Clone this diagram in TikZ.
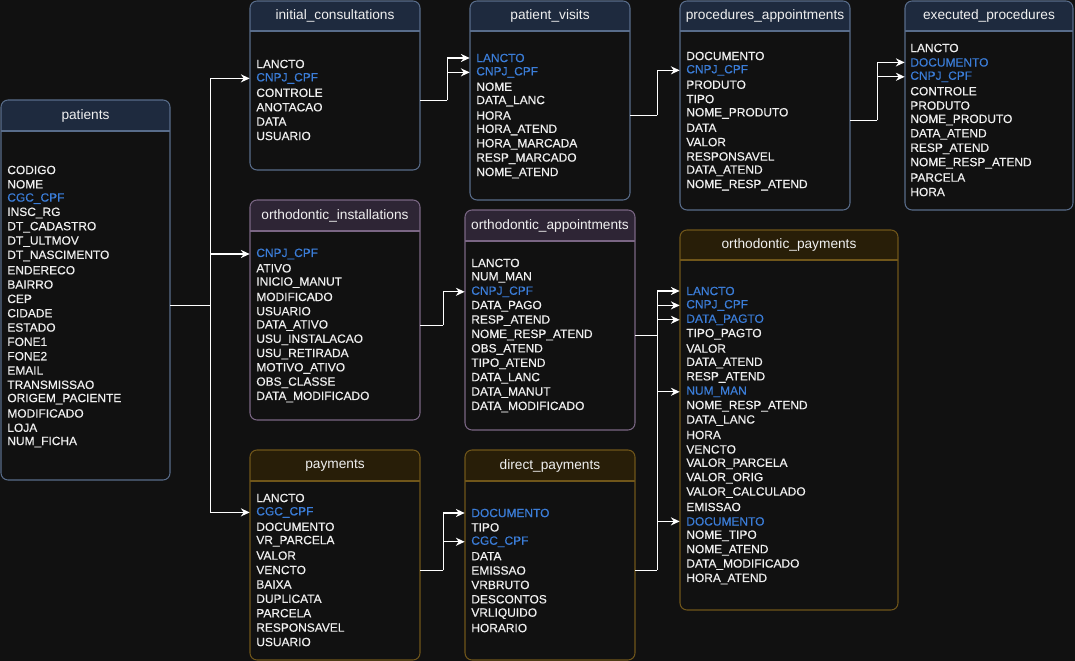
\documentclass[tikz,border=0pt]{standalone}
\usepackage{fontspec}
\setmainfont{Liberation Sans}
\newfontfamily\fieldfont[FakeBold=0.45]{Liberation Sans}
\usepackage{tikz}
\usetikzlibrary{arrows.meta,fit}
\definecolor{canvas}{RGB}{17,17,17}
\definecolor{fg}{RGB}{240,240,240}
\definecolor{key}{RGB}{59,125,216}
\definecolor{bluehd}{RGB}{30,42,62}
\definecolor{bluefr}{RGB}{88,108,138}
\definecolor{purphd}{RGB}{46,37,53}
\definecolor{purpfr}{RGB}{122,102,132}
\definecolor{goldhd}{RGB}{40,30,8}
\definecolor{goldfr}{RGB}{112,86,26}

\tikzset{
  wire/.style={draw=white, line width=0.75pt},
  link/.style={wire, -{Stealth[length=5pt,width=4.6pt]}},
  field/.style={anchor=west, inner sep=0pt, font=\fieldfont\fontsize{6.8pt}{8pt}\selectfont},
  title/.style={text=fg, inner sep=0pt, font=\fontsize{7.8pt}{9pt}\selectfont},
}

% table frame: name, title, left, top, right, bottom, header bottom, theme
\newcommand{\dbtable}[8]{%
  \begin{scope}
    \clip[rounded corners=4pt] (#3,#4) rectangle (#5,#6);
    \fill[#8hd] (#3,#4) rectangle (#5,#7);
  \end{scope}
  \draw[#8fr, line width=0.6pt, rounded corners=4pt] (#3,#4) rectangle (#5,#6);
  \draw[#8fr, line width=0.6pt] (#3,#7) -- (#5,#7);
  \node[title] (#1-h) at ({(#3+#5)/2},{(#4+#7)/2}) {#2};
  \node[fit={(#3,#7) (#5,#6)}, inner sep=0pt] (#1) {};
}

\begin{document}
\begin{tikzpicture}[x=0.02cm, y=-0.02cm]
  \fill[canvas] (0,0) rectangle (1075,661);
  \useasboundingbox (0,0) rectangle (1075,661);

  % patients
  \dbtable{pat}{patients}{1}{100}{170}{480}{131}{blue}
  \foreach \f/\c [count=\i] in {CODIGO/fg, NOME/fg, CGC\_CPF/key, INSC\_RG/fg,
      DT\_CADASTRO/fg, DT\_ULTMOV/fg, DT\_NASCIMENTO/fg, ENDERECO/fg, BAIRRO/fg,
      CEP/fg, CIDADE/fg, ESTADO/fg, FONE1/fg, FONE2/fg, EMAIL/fg, TRANSMISSAO/fg,
      ORIGEM\_PACIENTE/fg, MODIFICADO/fg, LOJA/fg, NUM\_FICHA/fg}
    \node[field, text=\c] (pat-\i) at (7,{170+14.32*(\i-1)}) {\f};

  % initial consultations
  \dbtable{ic}{initial\_consultations}{250}{1}{420}{170}{31}{blue}
  \foreach \f/\c [count=\i] in {LANCTO/fg, CNPJ\_CPF/key, CONTROLE/fg,
      ANOTACAO/fg, DATA/fg, USUARIO/fg}
    \node[field, text=\c] (ic-\i) at (256,{64+14.4*(\i-1)}) {\f};

  % patient visits
  \dbtable{pv}{patient\_visits}{470}{1}{630}{200}{31}{blue}
  \foreach \f/\c [count=\i] in {LANCTO/key, CNPJ\_CPF/key, NOME/fg, DATA\_LANC/fg,
      HORA/fg, HORA\_ATEND/fg, HORA\_MARCADA/fg, RESP\_MARCADO/fg, NOME\_ATEND/fg}
    \node[field, text=\c] (pv-\i) at (476,{58+14.38*(\i-1)}) {\f};

  % procedures appointments
  \dbtable{pa}{procedures\_appointments}{680}{1}{850}{210}{31}{blue}
  \foreach \f/\c [count=\i] in {DOCUMENTO/fg, CNPJ\_CPF/key, PRODUTO/fg, TIPO/fg,
      NOME\_PRODUTO/fg, DATA/fg, VALOR/fg, RESPONSAVEL/fg, DATA\_ATEND/fg,
      NOME\_RESP\_ATEND/fg}
    \node[field, text=\c] (pa-\i) at (686,{56+14.35*(\i-1)}) {\f};

  % executed procedures
  \dbtable{ep}{executed\_procedures}{905}{1}{1073}{210}{31}{blue}
  \foreach \f/\c [count=\i] in {LANCTO/fg, DOCUMENTO/key, CNPJ\_CPF/key,
      CONTROLE/fg, PRODUTO/fg, NOME\_PRODUTO/fg, DATA\_ATEND/fg, RESP\_ATEND/fg,
      NOME\_RESP\_ATEND/fg, PARCELA/fg, HORA/fg}
    \node[field, text=\c] (ep-\i) at (910,{48+14.4*(\i-1)}) {\f};

  % orthodontic installations
  \dbtable{oi}{orthodontic\_installations}{250}{200}{420}{420}{231}{purp}
  \foreach \f/\c [count=\i] in {CNPJ\_CPF/key, ATIVO/fg, INICIO\_MANUT/fg,
      MODIFICADO/fg, USUARIO/fg, DATA\_ATIVO/fg, USU\_INSTALACAO/fg,
      USU\_RETIRADA/fg, MOTIVO\_ATIVO/fg, OBS\_CLASSE/fg, DATA\_MODIFICADO/fg}
    \node[field, text=\c] (oi-\i) at (256,{254+14.3*(\i-1)}) {\f};

  % orthodontic appointments
  \dbtable{oa}{orthodontic\_appointments}{465}{210}{635}{430}{241}{purp}
  \foreach \f/\c [count=\i] in {LANCTO/fg, NUM\_MAN/fg, CNPJ\_CPF/key,
      DATA\_PAGO/fg, RESP\_ATEND/fg, NOME\_RESP\_ATEND/fg, OBS\_ATEND/fg,
      TIPO\_ATEND/fg, DATA\_LANC/fg, DATA\_MANUT/fg, DATA\_MODIFICADO/fg}
    \node[field, text=\c] (oa-\i) at (471,{263+14.4*(\i-1)}) {\f};

  % orthodontic payments
  \dbtable{op}{orthodontic\_payments}{680}{230}{898}{610}{260}{gold}
  \foreach \f/\c [count=\i] in {LANCTO/key, CNPJ\_CPF/key, DATA\_PAGTO/key,
      TIPO\_PAGTO/fg, VALOR/fg, DATA\_ATEND/fg, RESP\_ATEND/fg, NUM\_MAN/key,
      NOME\_RESP\_ATEND/fg, DATA\_LANC/fg, HORA/fg, VENCTO/fg, VALOR\_PARCELA/fg,
      VALOR\_ORIG/fg, VALOR\_CALCULADO/fg, EMISSAO/fg, DOCUMENTO/key,
      NOME\_TIPO/fg, NOME\_ATEND/fg, DATA\_MODIFICADO/fg, HORA\_ATEND/fg}
    \node[field, text=\c] (op-\i) at (686,{291+14.4*(\i-1)}) {\f};

  % payments
  \dbtable{pay}{payments}{250}{450}{420}{660}{481}{gold}
  \foreach \f/\c [count=\i] in {LANCTO/fg, CGC\_CPF/key, DOCUMENTO/fg,
      VR\_PARCELA/fg, VALOR/fg, VENCTO/fg, BAIXA/fg, DUPLICATA/fg, PARCELA/fg,
      RESPONSAVEL/fg, USUARIO/fg}
    \node[field, text=\c] (pay-\i) at (256,{498+14.4*(\i-1)}) {\f};

  % direct payments
  \dbtable{dp}{direct\_payments}{465}{450}{635}{660}{481}{gold}
  \foreach \f/\c [count=\i] in {DOCUMENTO/key, TIPO/fg, CGC\_CPF/key, DATA/fg,
      EMISSAO/fg, VRBRUTO/fg, DESCONTOS/fg, VRLIQUIDO/fg, HORARIO/fg}
    \node[field, text=\c] (dp-\i) at (471,{513+14.38*(\i-1)}) {\f};

  % links
  \draw[wire] (pat.east) -- ++(40,0) coordinate (pat-j);
  \draw[link] (pat-j) |- (ic.west |- ic-2);
  \draw[link] (pat-j) |- (oi.west |- oi-1);
  \draw[link] (pat-j) |- (pay.west |- pay-2);

  \draw[wire] (ic.east) -- ++(27,0) coordinate (ic-j);
  \draw[link] (ic-j) |- (pv.west |- pv-1);
  \draw[link] (ic-j) |- (pv.west |- pv-2);

  \draw[wire] (pv.east) -- ++(27,0) coordinate (pv-j);
  \draw[link] (pv-j) |- (pa.west |- pa-2);

  \draw[wire] (pa.east) -- ++(27,0) coordinate (pa-j);
  \draw[link] (pa-j) |- (ep.west |- ep-2);
  \draw[link] (pa-j) |- (ep.west |- ep-3);

  \draw[wire] (oi.east) -- ++(23,0) coordinate (oi-j);
  \draw[link] (oi-j) |- (oa.west |- oa-3);

  \draw[wire] (pay.east) -- ++(23,0) coordinate (pay-j);
  \draw[link] (pay-j) |- (dp.west |- dp-1);
  \draw[link] (pay-j) |- (dp.west |- dp-3);

  \draw[wire] (oa.east) -- ++(22,0) coordinate (oa-j);
  \draw[wire] (dp.east) -- ++(22,0) coordinate (dp-j);
  \draw[wire] (oa-j) -- (dp-j);
  \foreach \k in {1,2,3,8,17}
    \draw[link] (oa-j) |- (op.west |- op-\k);
\end{tikzpicture}
\end{document}
